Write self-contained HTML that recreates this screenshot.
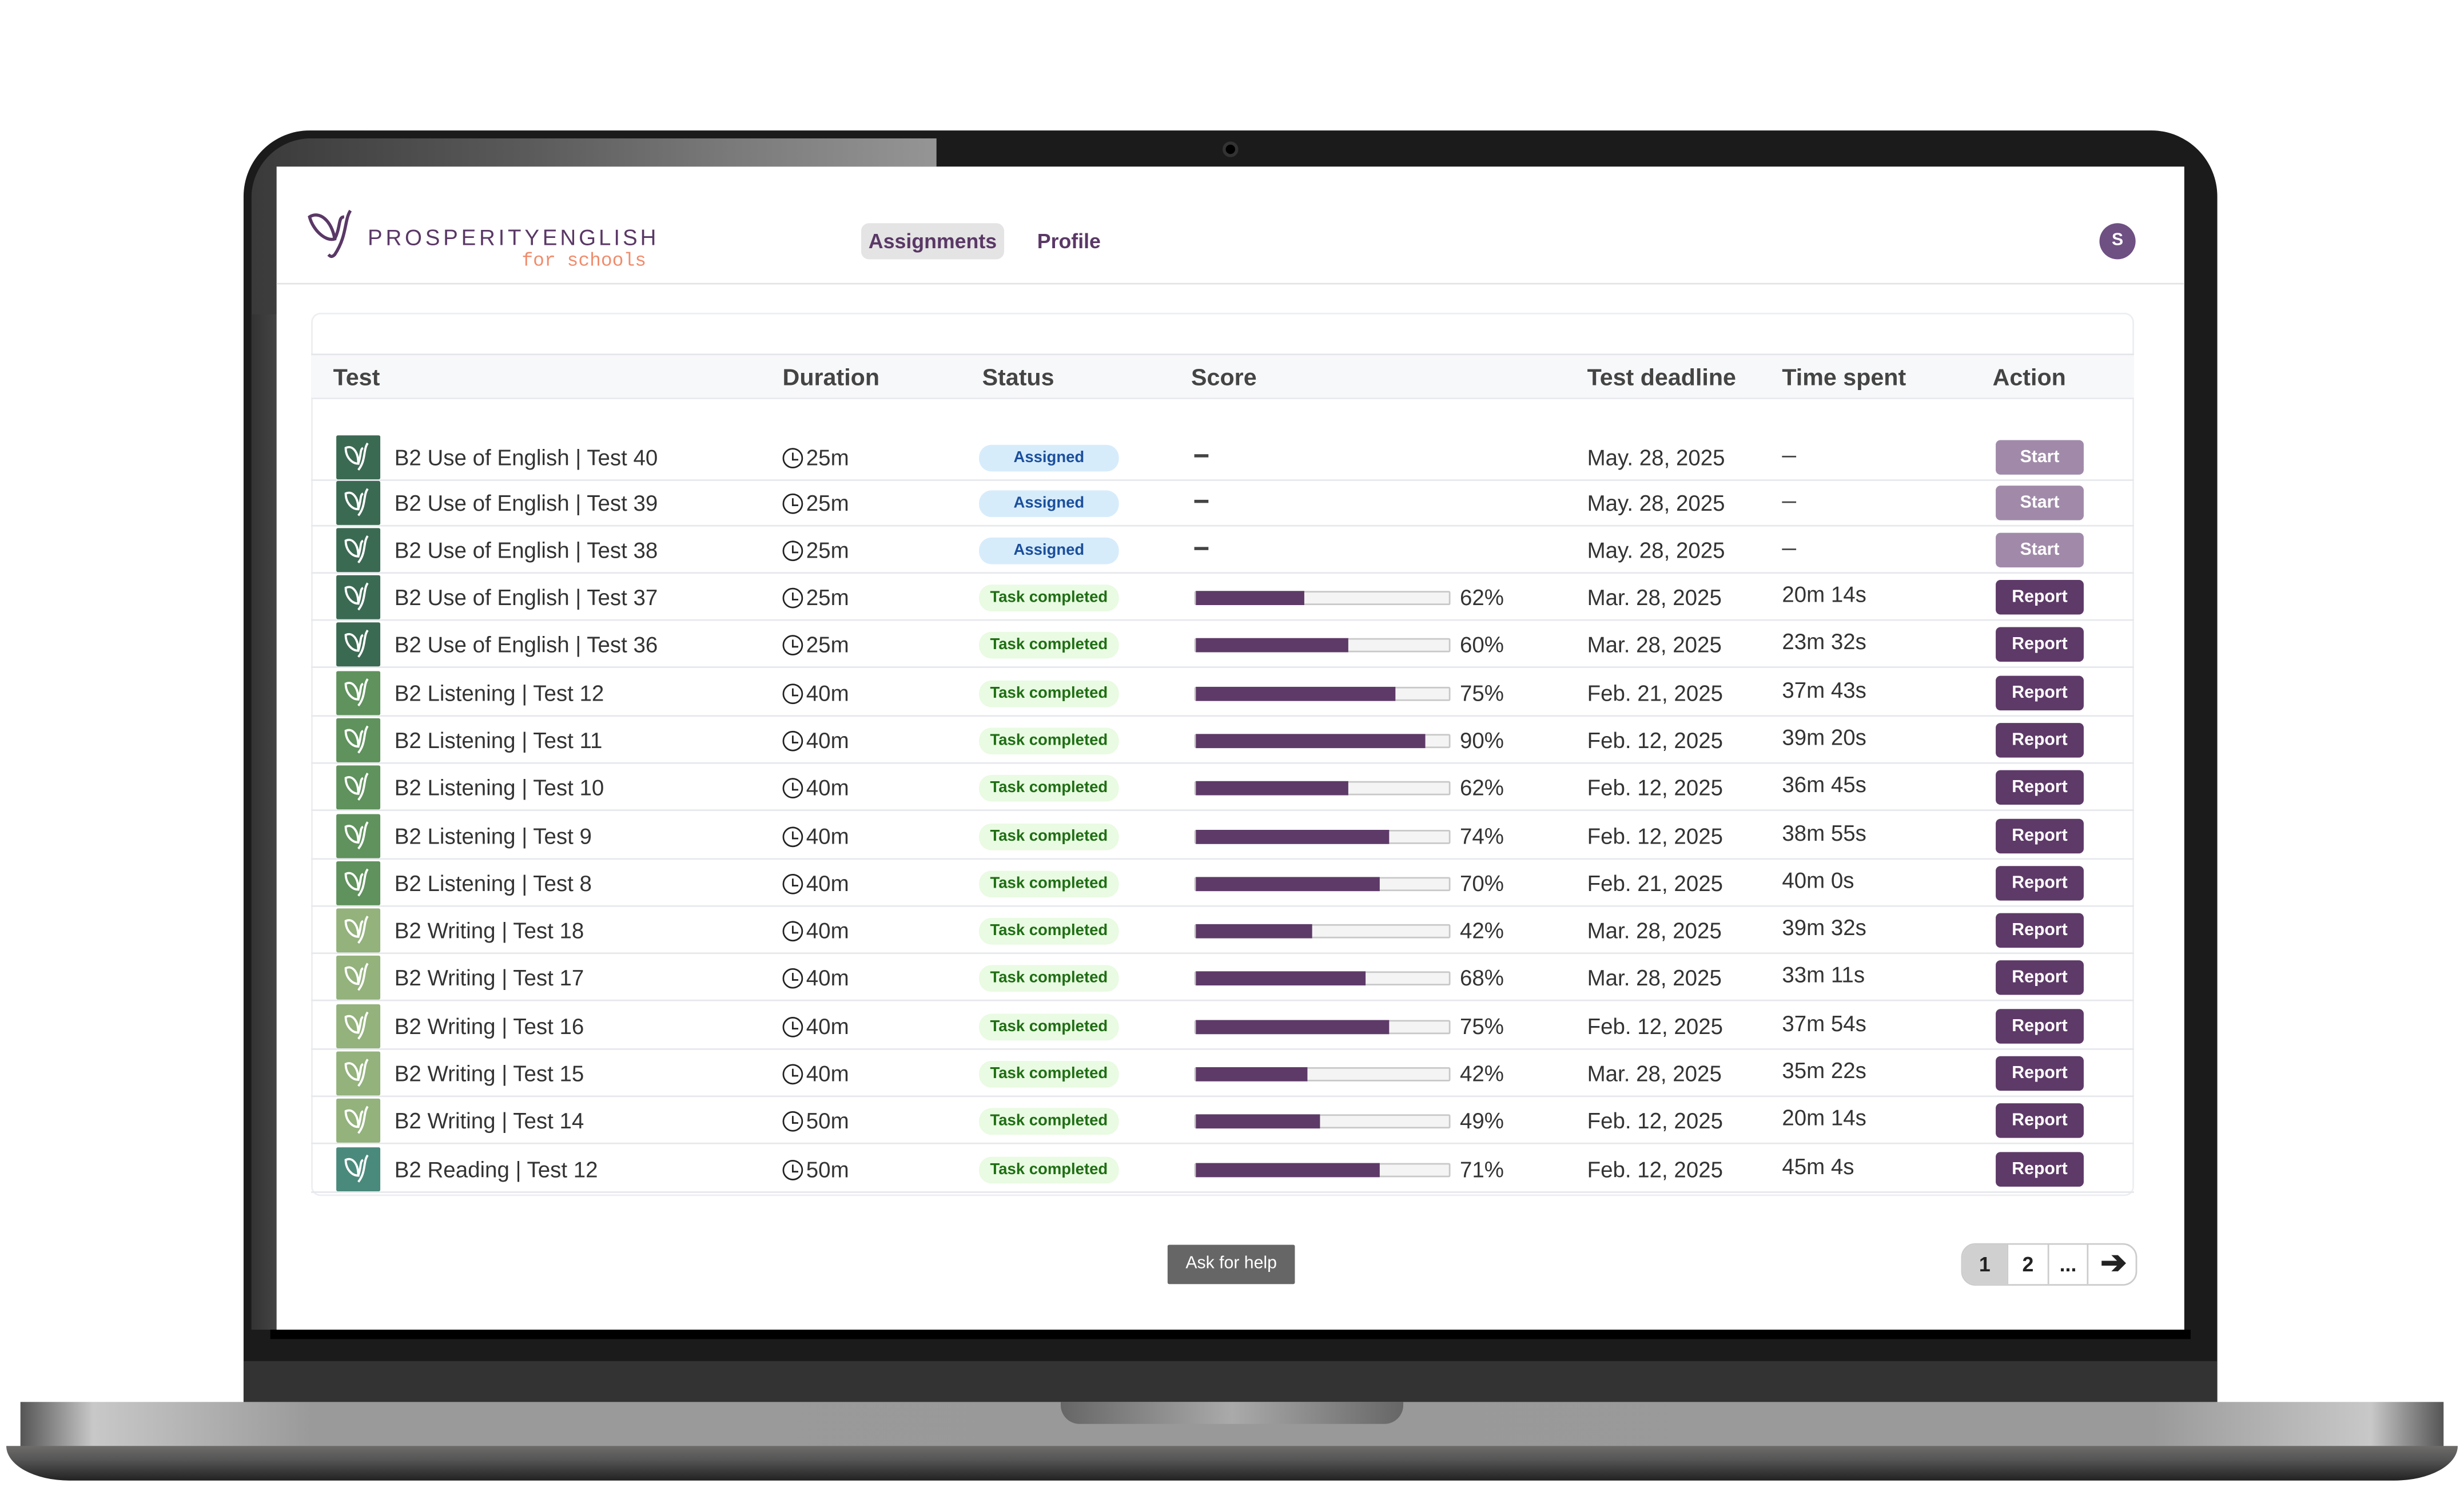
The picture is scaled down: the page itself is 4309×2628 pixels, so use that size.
<!DOCTYPE html>
<html><head><meta charset="utf-8"><style>
*{margin:0;padding:0;box-sizing:border-box}
html,body{width:4309px;height:2628px;background:#fff;overflow:hidden}
#s{position:absolute;left:0;top:0;width:1568px;height:956px;transform:scale(2.7481);transform-origin:0 0;font-family:"Liberation Sans Narrow","Liberation Sans",sans-serif;color:#333}
.a{position:absolute}
.row{position:absolute;left:198px;width:1160px;height:30px;border-bottom:1px solid #e6e8ec}
.row>div{position:absolute;top:0;height:30px;line-height:30px;font-size:14px;white-space:nowrap}
.ic{left:16px;top:1px!important;width:28px;height:28px!important;border-radius:1px}
.ic svg{position:absolute;left:4px;top:4px}
.nm{left:53px}
.du{left:300px}
.st{left:425px;top:7px!important;width:89px;height:17px!important;line-height:17px!important;border-radius:8px;font-size:10px!important;text-align:center;font-weight:bold}
.as{background:#d7ecfb;color:#1b4f9c}
.tc{background:#e9fbe2;color:#1f6e14}
.bar{left:562px;top:11px!important;width:163px;height:9px!important;background:#f4f4f4;border:1px solid #c8c8c8;border-radius:1px}
.bar i{position:absolute;left:0;top:-1px;height:9px;background:#5e3a68}
.pc{left:731px}
.dl{left:812px}
.ts{left:936px;top:-2px!important}
.btn{left:1072px;top:4px!important;width:56px;height:22px!important;line-height:22px!important;border-radius:3px;color:#fff;font-size:11px!important;font-weight:bold;text-align:center}
.sb{background:#a18aa9}.rb{background:#5e3a68}
.clk{display:inline-block;width:13px;height:13px;border:1.5px solid #222;border-radius:50%;vertical-align:-2px;margin-right:2px;position:relative}
.clk:after{content:"";position:absolute;left:4.5px;top:1.5px;width:3px;height:4px;border-left:1.5px solid #222;border-bottom:1.5px solid #222}
.th{position:absolute;top:0;line-height:29px;font-size:15px;font-weight:bold;color:#444}
</style></head><body><div id="s">
<!-- laptop frame -->
<div class="a" style="left:155px;top:83px;width:1256px;height:820px;background:#1b1b1b;border-radius:42px 42px 0 0"></div>
<div class="a" style="left:160px;top:88px;width:436px;height:758px;border-radius:38px 0 0 0;background:linear-gradient(90deg,#3a3a3a,#5a5a5a 40%,#7a7a7a 70%,#959595);clip-path:polygon(0 0,100% 0,100% 18px,16px 18px,16px 100%,0 100%)"></div>
<div class="a" style="left:160px;top:200px;width:16px;height:646px;background:linear-gradient(90deg,#333,#444)"></div>
<div class="a" style="left:778px;top:90px;width:10px;height:10px;border-radius:50%;background:#000;border:2px solid #333"></div>
<div class="a" style="left:155px;top:866px;width:1256px;height:27px;background:#333"></div>
<div class="a" style="left:172px;top:846px;width:1222px;height:6px;background:#000"></div>
<!-- base -->
<div class="a" style="left:13px;top:892px;width:1542px;height:29px;background:linear-gradient(90deg,#555 0%,#c8c8c8 3%,#9a9a9a 12%,#999 50%,#9a9a9a 88%,#c8c8c8 97%,#555 100%)"></div>
<div class="a" style="left:4px;top:920px;width:1560px;height:22px;border-radius:0 0 40px 40px/0 0 22px 22px;background:linear-gradient(180deg,#6d6c6a,#555 40%,#222)"></div>
<div class="a" style="left:675px;top:892px;width:218px;height:14px;border-radius:0 0 12px 12px;background:linear-gradient(90deg,#666,#aaa 50%,#666)"></div>
<!-- screen -->
<div class="a" style="left:176px;top:106px;width:1214px;height:740px;background:#fff"></div>
<!-- header -->
<svg class="a" style="left:195px;top:132px" width="40" height="34" viewBox="0 0 40 34"><path d="M2 6 C8 2 16 8 18 20 C12 22 4 14 2 6Z M18 20 C22 12 20 6 24 6 M28 2 C24 8 26 18 18 30 C16 32 15 31 14 30" fill="none" stroke="#5a3866" stroke-width="2"/></svg>
<div class="a" style="left:234px;top:143px;font-family:'Liberation Sans',sans-serif;font-size:14px;letter-spacing:2.1px;color:#5a3866;white-space:nowrap">PROSPERITY<span style="letter-spacing:1.8px">ENGLISH</span></div>
<div class="a" style="left:332px;top:159px;font-family:'Liberation Mono',monospace;font-size:12px;color:#f08c6c">for schools</div>
<div class="a" style="left:548px;top:142px;width:91px;height:23px;border-radius:5px;background:#e4e4e4;font-size:13px;font-weight:bold;color:#5a3866;text-align:center;line-height:23px">Assignments</div>
<div class="a" style="left:660px;top:142px;font-size:13px;font-weight:bold;color:#5a3866;line-height:23px">Profile</div>
<div class="a" style="left:1336px;top:142px;width:23px;height:23px;border-radius:50%;background:#6e5083;color:#fff;font-size:11px;font-weight:bold;text-align:center;line-height:23px">S</div>
<div class="a" style="left:176px;top:180px;width:1214px;height:1px;background:#e3e3e3"></div>
<!-- card -->
<div class="a" style="left:198px;top:199px;width:1160px;height:562px;border:1px solid #eceef1;border-radius:6px"></div>
<div class="a" style="left:198px;top:225px;width:1160px;height:29px;background:#f7f8fa;border-top:1px solid #e3e6ea;border-bottom:1px solid #e8eaee">
<div class="th" style="left:14px">Test</div><div class="th" style="left:300px">Duration</div><div class="th" style="left:427px">Status</div><div class="th" style="left:560px">Score</div><div class="th" style="left:812px">Test deadline</div><div class="th" style="left:936px">Time spent</div><div class="th" style="left:1070px">Action</div></div>

<div id="rows"></div>

<div class="a" style="left:743px;top:792px;width:81px;height:25px;background:#666;color:#fff;font-size:11px;text-align:center;line-height:25px;border-radius:1px">Ask for help</div>
<div class="a" style="left:1248px;top:791px;width:112px;height:27px;border:1px solid #ccc;border-radius:9px;overflow:hidden;font-size:13px;font-weight:bold;color:#222">
<div class="a" style="left:0;top:0;width:28px;height:27px;background:#d0d0d0;text-align:center;line-height:25px">1</div>
<div class="a" style="left:28px;top:0;width:26px;height:27px;border-left:1px solid #ccc;text-align:center;line-height:25px">2</div>
<div class="a" style="left:54px;top:0;width:26px;height:27px;border-left:1px solid #ccc;border-right:1px solid #ccc;text-align:center;line-height:25px">...</div>
<div class="a" style="left:82px;top:0;width:28px;height:27px;text-align:center;line-height:24px;font-size:20px">&#10132;</div></div>
</div>
<script>
var R=[
["B2 Use of English | Test 40","25m",0,0,"May. 28, 2025","–",0,"#3b6a53"],
["B2 Use of English | Test 39","25m",0,0,"May. 28, 2025","–",0,"#3b6a53"],
["B2 Use of English | Test 38","25m",0,0,"May. 28, 2025","–",0,"#3b6a53"],
["B2 Use of English | Test 37","25m",1,"62%","Mar. 28, 2025","20m 14s",69,"#3b6a53"],
["B2 Use of English | Test 36","25m",1,"60%","Mar. 28, 2025","23m 32s",97,"#3b6a53"],
["B2 Listening | Test 12","40m",1,"75%","Feb. 21, 2025","37m 43s",127,"#5f925c"],
["B2 Listening | Test 11","40m",1,"90%","Feb. 12, 2025","39m 20s",146,"#5f925c"],
["B2 Listening | Test 10","40m",1,"62%","Feb. 12, 2025","36m 45s",97,"#5f925c"],
["B2 Listening | Test 9","40m",1,"74%","Feb. 12, 2025","38m 55s",123,"#5f925c"],
["B2 Listening | Test 8","40m",1,"70%","Feb. 21, 2025","40m 0s",117,"#5f925c"],
["B2 Writing | Test 18","40m",1,"42%","Mar. 28, 2025","39m 32s",74,"#93b27c"],
["B2 Writing | Test 17","40m",1,"68%","Mar. 28, 2025","33m 11s",108,"#93b27c"],
["B2 Writing | Test 16","40m",1,"75%","Feb. 12, 2025","37m 54s",123,"#93b27c"],
["B2 Writing | Test 15","40m",1,"42%","Mar. 28, 2025","35m 22s",71,"#93b27c"],
["B2 Writing | Test 14","50m",1,"49%","Feb. 12, 2025","20m 14s",79,"#93b27c"],
["B2 Reading | Test 12","50m",1,"71%","Feb. 12, 2025","45m 4s",117,"#4a8a7c"]];
var C=[291,320,350,380,410,441,471,501,532,562,592,622,653,683,713,744],h="";
var leaf='<svg width="20" height="20" viewBox="0 0 20 20"><path d="M2 4C6 2 10 6 10 14C6 14 2 10 2 4ZM10 14C12 8 11 5 13 4M16 1C13 5 15 12 10 18" fill="none" stroke="#fff" stroke-width="1.4"/></svg>';
R.forEach(function(r,i){var t=C[i]-15;
h+='<div class="row" style="top:'+t+'px"><div class="ic" style="background:'+r[7]+'">'+leaf+'</div><div class="nm">'+r[0]+'</div><div class="du"><span class="clk"></span>'+r[1]+'</div>';
if(r[2]){h+='<div class="st tc">Task completed</div><div class="bar"><i style="width:'+r[6]+'px"></i></div><div class="pc">'+r[3]+'</div><div class="btn rb">Report</div>';}
else{h+='<div class="st as">Assigned</div><div class="a" style="left:562px;top:13px;width:9px;height:1.5px;background:#444"></div><div class="btn sb">Start</div>';}
h+='<div class="dl">'+r[4]+'</div><div class="ts">'+(r[5]=="–"?'<span style="display:inline-block;width:9px;height:1.5px;background:#444;vertical-align:middle"></span>':r[5])+'</div></div>';});
document.getElementById("rows").outerHTML=h;
</script>
</body></html>
